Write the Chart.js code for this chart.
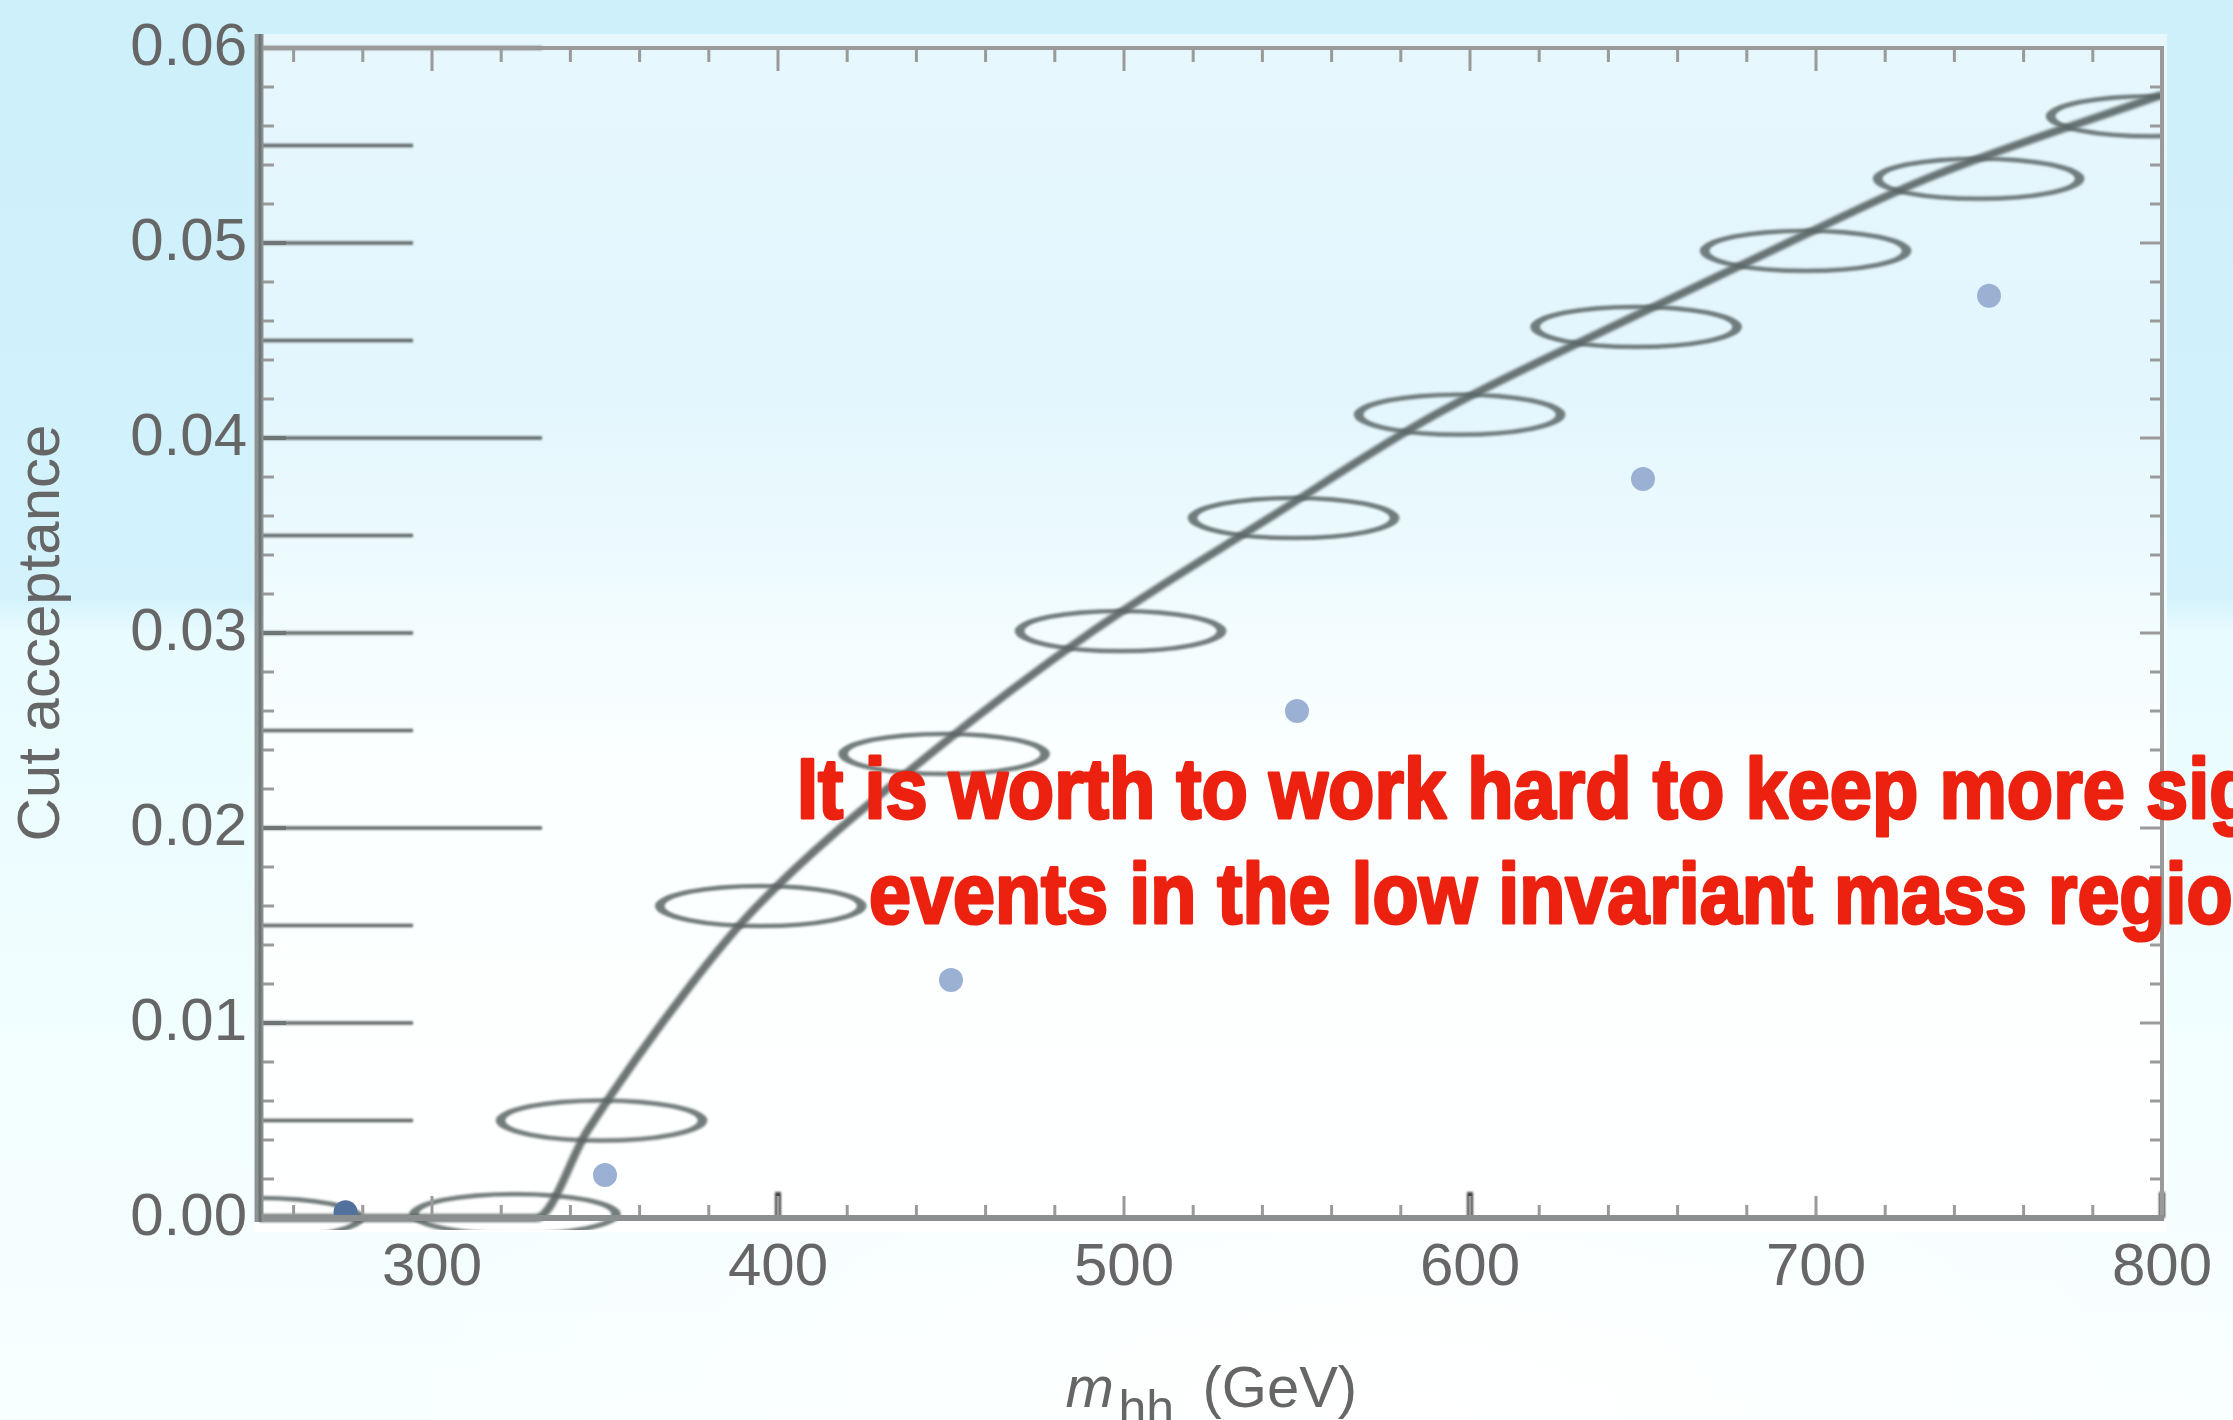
<!DOCTYPE html>
<html>
<head>
<meta charset="utf-8">
<title>Cut acceptance vs m_hh</title>
<script src="https://cdn.jsdelivr.net/npm/chart.js@4.4.1/dist/chart.umd.min.js"></script>
<style>
  html, body { margin: 0; padding: 0; overflow: hidden; }
  body {
    width: 2233px; height: 1420px;
    background:
      radial-gradient(ellipse 1300px 560px at 1400px 1420px, rgba(255,255,255,1), rgba(255,255,255,0) 80%),
      linear-gradient(180deg, #cdf0fb 0%, #d3f2fc 42%, #e8fbff 44.5%, #f2feff 75%, #f8ffff 100%);
  }
  #wrap { position: absolute; left: 0; top: 0; width: 2233px; height: 1420px; }
</style>
</head>
<body>
<div id="wrap"><canvas id="acceptanceChart"></canvas></div>
<script>
// acceptance of the selection cuts per m_hh bin (blue dots)
const massPoints = [275, 350, 450, 550, 650, 750];
const acceptance = [0.0003, 0.0022, 0.0122, 0.0260, 0.0379, 0.0473];

// grey reference curve pasted over the frame, and its ring markers
const curveMass = [250, 330, 345, 375, 394, 444, 491, 542, 590, 641, 687, 732, 800];
const curveAcc = [0, 0, 0.0045, 0.0120, 0.0160, 0.0238, 0.0301, 0.0359, 0.0412, 0.0457, 0.0496, 0.0533, 0.0576];
const ringMass = [250, 324, 349, 395, 448, 499, 549, 597, 648, 697, 747, 797];
const ringAcc = [0, 0.0002, 0.0050, 0.0160, 0.0238, 0.0301, 0.0359, 0.0412, 0.0457, 0.0496, 0.0533, 0.0565];

// tick labels
const xTickLabels = [300, 400, 500, 600, 700, 800];
const yTickLabels = [0, 0.01, 0.02, 0.03, 0.04, 0.05, 0.06];

// leftover marks of the pasted panel (its own stretched y ticks and x ticks)
const panelLongLines = [0, 0.02, 0.04, 0.06];
const panelShortLines = [0.005, 0.01, 0.015, 0.025, 0.03, 0.035, 0.045, 0.05, 0.055];
const panelXMarks = [400, 600, 800];

const noteLines = ['It is worth to work hard to keep more signal', 'events in the low invariant mass region'];

const FONT = '"Liberation Sans", Arial, sans-serif';
const GREY_TEXT = '#666666';

// ring marker: a circle squashed into a wide ellipse, slightly soft
function makeRing() {
  const c = document.createElement('canvas');
  c.width = 240; c.height = 64;
  const g = c.getContext('2d');
  g.filter = 'blur(1.3px)';
  g.strokeStyle = 'rgba(92,102,102,0.85)';
  g.translate(120, 32);
  g.scale(2.2, 1);
  g.lineWidth = 4.4;
  g.beginPath();
  g.ellipse(0, 0, 101 / 2.2, 20, 0, 0, Math.PI * 2);
  g.stroke();
  return c;
}

// plot panel background: pale blue at the top fading to white
const backdrop = {
  id: 'backdrop',
  beforeDraw(chart) {
    const {ctx, chartArea: a} = chart;
    ctx.save();
    const top = a.top - 14, bottom = a.bottom + 14;
    const grad = ctx.createLinearGradient(0, top, 0, bottom);
    grad.addColorStop(0, '#e6f7fd');
    grad.addColorStop(0.3, '#e3f6fd');
    grad.addColorStop(0.45, '#eefbfe');
    grad.addColorStop(0.6, '#fbffff');
    grad.addColorStop(1, '#ffffff');
    ctx.fillStyle = grad;
    ctx.fillRect(a.left - 5, top, a.width + 10, bottom - top);
    ctx.restore();
  }
};

// soft edges for the pasted curve and rings
const softDatasets = {
  id: 'softDatasets',
  beforeDatasetDraw(chart, args) {
    const ds = chart.data.datasets[args.index];
    chart.ctx.save();
    if (ds.blurPx) chart.ctx.filter = 'blur(' + ds.blurPx + 'px)';
  },
  afterDatasetDraw(chart) {
    chart.ctx.restore();
  }
};

// stretched tick lines left over from the pasted panel
const panelMarks = {
  id: 'panelMarks',
  beforeDatasetsDraw(chart) {
    const {ctx, chartArea: a, scales: {x, y}} = chart;
    ctx.save();
    ctx.filter = 'blur(0.8px)';
    ctx.strokeStyle = 'rgba(70,76,76,0.85)';
    ctx.lineWidth = 3.5;
    ctx.beginPath();
    panelShortLines.forEach(v => {
      const py = y.getPixelForValue(v);
      ctx.moveTo(a.left, py); ctx.lineTo(a.left + 154, py);
    });
    panelLongLines.forEach(v => {
      const py = y.getPixelForValue(v);
      ctx.moveTo(a.left, py); ctx.lineTo(a.left + 283, py);
    });
    ctx.stroke();
    ctx.filter = 'blur(1px)';
    ctx.fillStyle = 'rgba(45,45,45,0.9)';
    panelXMarks.forEach(v => {
      const px = x.getPixelForValue(v);
      ctx.fillRect(px - 3, a.bottom - 26, 6, 26);
    });
    ctx.restore();
  }
};

// frame with inward ticks on all four sides
const frame = {
  id: 'frame',
  afterDatasetsDraw(chart) {
    const {ctx, chartArea: a, scales: {x, y}} = chart;
    ctx.save();
    ctx.lineCap = 'butt';
    ctx.strokeStyle = '#9a9a9a';
    ctx.lineWidth = 3;
    ctx.beginPath();
    for (let k = 13; k <= 39; k++) {
      const px = x.getPixelForValue(k * 20);
      const major = k % 5 === 0;
      ctx.moveTo(px, a.bottom); ctx.lineTo(px, a.bottom - (major ? 22 : 13));
      ctx.moveTo(px, a.top); ctx.lineTo(px, a.top + (major ? 23 : 14));
    }
    for (let k = 1; k <= 29; k++) {
      const py = y.getPixelForValue(k * 0.002);
      const major = k % 5 === 0;
      ctx.moveTo(a.right, py); ctx.lineTo(a.right - (major ? 22 : 12), py);
      if (!major) { ctx.moveTo(a.left, py); ctx.lineTo(a.left + 15, py); }
    }
    ctx.stroke();
    ctx.strokeStyle = '#6f7474';
    ctx.lineWidth = 4;
    ctx.beginPath();
    yTickLabels.forEach(v => {
      const py = y.getPixelForValue(v);
      ctx.moveTo(a.left, py); ctx.lineTo(a.left + 27, py);
    });
    ctx.stroke();

    // frame lines
    ctx.strokeStyle = '#9a9a9a';
    ctx.lineWidth = 4;
    ctx.beginPath();
    ctx.moveTo(a.left, a.top); ctx.lineTo(a.right, a.top); ctx.lineTo(a.right, a.bottom);
    ctx.stroke();
    ctx.strokeStyle = '#8c8f8f';
    ctx.lineWidth = 6;
    ctx.beginPath();
    ctx.moveTo(a.left, a.bottom); ctx.lineTo(a.right + 2, a.bottom);
    ctx.stroke();
    ctx.strokeStyle = '#8d9393';
    ctx.lineWidth = 9;
    ctx.beginPath();
    ctx.moveTo(a.left, a.top - 14); ctx.lineTo(a.left, a.bottom + 4);
    ctx.stroke();
    ctx.strokeStyle = '#6e7474';
    ctx.lineWidth = 3;
    ctx.beginPath();
    ctx.moveTo(a.left + 1, a.top - 14); ctx.lineTo(a.left + 1, a.bottom + 4);
    ctx.stroke();
    ctx.restore();
  }
};

// x-axis title with italic m and subscript hh, plus the red note
const overlayText = {
  id: 'overlayText',
  afterDraw(chart) {
    const {ctx, chartArea: a} = chart;
    const cx = (a.left + a.right) / 2;
    ctx.save();
    ctx.fillStyle = GREY_TEXT;
    ctx.textBaseline = 'alphabetic';
    ctx.textAlign = 'left';
    ctx.font = 'italic 58px ' + FONT;
    ctx.fillText('m', cx - 145, 1407);
    ctx.font = '50px ' + FONT;
    ctx.fillText('hh', cx - 92, 1425);
    ctx.font = '58px ' + FONT;
    ctx.fillText('(GeV)', cx - 8, 1407);

    // heavy condensed red note: bold face squeezed sideways
    ctx.fillStyle = '#ec210f';
    ctx.strokeStyle = '#ec210f';
    ctx.lineJoin = 'round';
    ctx.font = 'bold 86px ' + FONT;
    const rows = [
      {text: noteLines[0], lead: 'It is worth to work hard to keep more ', x: 797, base: 818, span: 1349},
      {text: noteLines[1], lead: 'events in the low invariant mass ', x: 869, base: 923, span: 1179}
    ];
    rows.forEach(r => {
      const sx = r.span / ctx.measureText(r.lead).width;
      ctx.save();
      ctx.translate(r.x, r.base);
      ctx.scale(sx, 1);
      ctx.lineWidth = 3;
      ctx.fillText(r.text, 0, 0);
      ctx.strokeText(r.text, 0, 0);
      ctx.restore();
    });
    ctx.restore();
  }
};

const ring = makeRing();

new Chart(document.getElementById('acceptanceChart'), {
  type: 'scatter',
  data: {
    datasets: [
      {
        label: 'Cut acceptance',
        data: massPoints.map((m, i) => ({x: m, y: acceptance[i]})),
        pointRadius: 12,
        pointBorderWidth: 0,
        pointBackgroundColor: massPoints.map((m, i) => i === 0 ? '#52719c' : '#9bb1d3'),
        clip: 0,
        order: 0
      },
      {
        label: 'rings',
        data: ringMass.map((m, i) => ({x: m, y: ringAcc[i]})),
        pointStyle: ring,
        pointRadius: 10,
        clip: {left: 0, top: 8, right: 0, bottom: 12},
        order: 1
      },
      {
        type: 'line',
        label: 'curve',
        data: curveMass.map((m, i) => ({x: m, y: curveAcc[i]})),
        borderColor: 'rgba(82,92,92,0.85)',
        borderWidth: 8,
        pointRadius: 0,
        fill: false,
        cubicInterpolationMode: 'monotone',
        clip: {left: 0, top: 8, right: 0, bottom: 6},
        blurPx: 1.6,
        order: 2
      }
    ]
  },
  options: {
    responsive: true,
    maintainAspectRatio: false,
    animation: false,
    events: [],
    layout: { padding: { top: 43, right: 71, left: 0, bottom: 0 } },
    plugins: {
      legend: { display: false },
      tooltip: { enabled: false }
    },
    scales: {
      x: {
        type: 'linear',
        position: 'bottom',
        min: 250,
        max: 800,
        afterBuildTicks: s => { s.ticks = xTickLabels.map(v => ({value: v})); },
        afterFit: s => { s.height = 202; },
        grid: { display: false, drawTicks: false },
        border: { display: false },
        ticks: {
          color: GREY_TEXT,
          font: { family: FONT, size: 60 },
          padding: 14,
          maxRotation: 0,
          autoSkip: false
        }
      },
      y: {
        type: 'linear',
        min: 0,
        max: 0.06,
        afterBuildTicks: s => { s.ticks = yTickLabels.map(v => ({value: v})); },
        afterFit: s => { s.width = 259; },
        grid: { display: false, drawTicks: false },
        border: { display: false },
        ticks: {
          color: GREY_TEXT,
          font: { family: FONT, size: 60 },
          padding: 12,
          autoSkip: false,
          callback: v => v.toFixed(2)
        },
        title: {
          display: true,
          text: 'Cut acceptance',
          color: GREY_TEXT,
          font: { family: FONT, size: 60 },
          padding: { top: 6, bottom: 0 }
        }
      }
    }
  },
  plugins: [backdrop, softDatasets, panelMarks, frame, overlayText]
});
</script>
</body>
</html>
